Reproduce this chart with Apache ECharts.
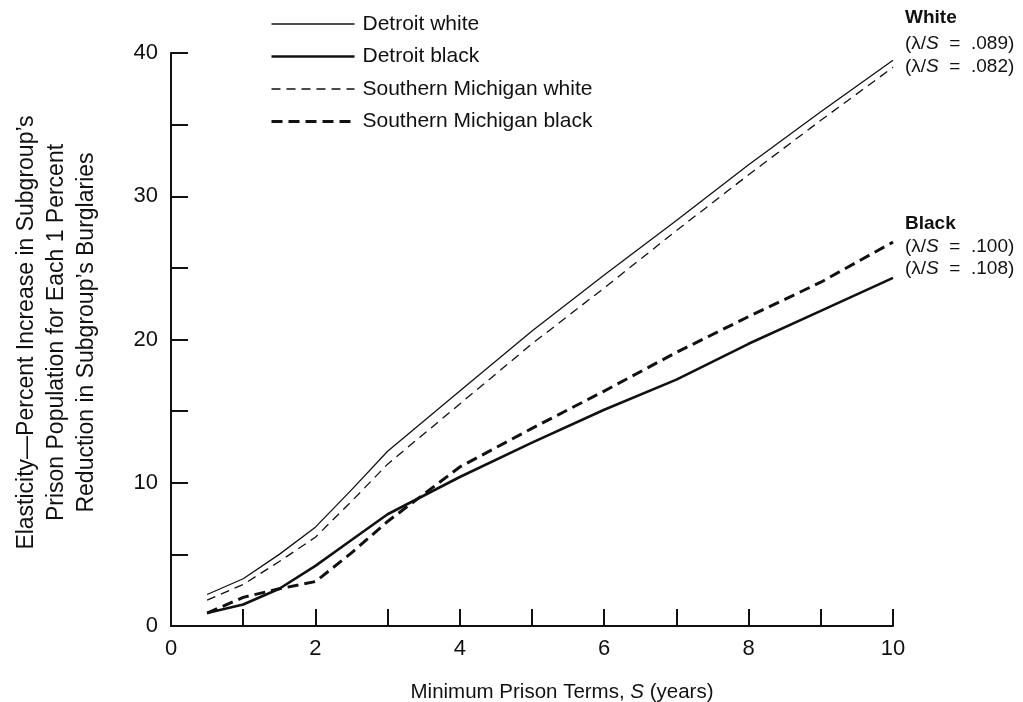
<!DOCTYPE html>
<html>
<head>
<meta charset="utf-8">
<script src="https://cdn.jsdelivr.net/npm/echarts@6/dist/echarts.min.js"></script>
<style>
html,body{margin:0;padding:0;background:#fff;}
#main{width:1023px;height:702px;}
</style>
</head>
<body>
<div id="main"></div>
<script>
// Minimum prison term S (years)
const termYears = [0.5, 1, 1.5, 2, 2.5, 3, 4, 5, 6, 7, 8, 9, 10];
// Elasticity values per subgroup
const detroitWhite = [2.2, 3.3, 5.0, 6.9, 9.5, 12.2, 16.4, 20.6, 24.5, 28.3, 32.2, 35.9, 39.5];
const detroitBlack = [0.9, 1.5, 2.6, 4.2, 6.0, 7.8, 10.4, 12.8, 15.1, 17.2, 19.7, 22.0, 24.3];
const michWhite    = [1.8, 2.9, 4.5, 6.2, 8.7, 11.3, 15.5, 19.7, 23.6, 27.6, 31.5, 35.3, 39.0];
const michBlack    = [0.9, 2.0, 2.6, 3.1, 5.1, 7.3, 11.1, 13.8, 16.4, 19.1, 21.6, 24.0, 26.8];
const seriesNames = ['Detroit white', 'Detroit black', 'Southern Michigan white', 'Southern Michigan black'];
const yTickLabels = [0, 10, 20, 30, 40];
const xTickLabels = [0, 2, 4, 6, 8, 10];
const whiteNotes = ['White', '(λ/S = .089)', '(λ/S = .082)'];
const blackNotes = ['Black', '(λ/S = .100)', '(λ/S = .108)'];

const FONT = '"Liberation Sans", Arial, Helvetica, sans-serif';
const INK = '#111';
const NOTE_SIZE = 19;

function pairs(ys) { return termYears.map((x, i) => [x, ys[i]]); }

function note(text, left, top, bold) {
  const m = text.match(/^\(λ\/S = (.*)\)$/);
  if (m) {
    return { type: 'text', left: left, top: top, style: {
      text: '(λ/{i|S}  =  ' + m[1] + ')', font: NOTE_SIZE + 'px ' + FONT, fill: INK,
      rich: { i: { fontStyle: 'italic', fontSize: NOTE_SIZE, fontFamily: FONT, fill: INK } } } };
  }
  return { type: 'text', left: left, top: top, style: {
    text: text, font: (bold ? 'bold ' : '') + NOTE_SIZE + 'px ' + FONT, fill: INK } };
}

const chart = echarts.init(document.getElementById('main'), null, { renderer: 'canvas' });
const lineDefs = [
  { name: seriesNames[0], data: detroitWhite, width: 1.3, type: 'solid' },
  { name: seriesNames[1], data: detroitBlack, width: 2.6, type: 'solid' },
  { name: seriesNames[2], data: michWhite, width: 1.3, type: [9, 6] },
  { name: seriesNames[3], data: michBlack, width: 3, type: [11, 6] }
];

chart.setOption({
  animation: false,
  backgroundColor: '#fff',
  textStyle: { fontFamily: FONT, color: INK },
  grid: { left: 171, right: 130, top: 53, bottom: 76, containLabel: false, outerBoundsMode: 'none' },
  legend: {
    orient: 'vertical', left: 265, top: 8,
    itemWidth: 83, itemHeight: 14, itemGap: 10.5,
    data: lineDefs.map(d => ({
      name: d.name,
      lineStyle: { width: d.width, type: d.type, color: INK }
    })),
    itemStyle: { opacity: 0 },
    lineStyle: { width: 'inherit' },
    textStyle: { fontSize: 21, fontFamily: FONT, color: INK, padding: [0, 0, 0, 3], lineHeight: 22 }
  },
  xAxis: {
    type: 'value', min: 0, max: 10, interval: 1,
    name: 'Minimum Prison Terms, {i|S} (years)',
    nameLocation: 'middle', nameGap: 56,
    nameTextStyle: { fontSize: 20.5, color: INK, fontFamily: FONT, padding: [0, 0, 0, 60],
      rich: { i: { fontStyle: 'italic', fontSize: 20.5, color: INK, fontFamily: FONT } } },
    axisLine: { show: true, lineStyle: { color: INK, width: 2 } },
    axisTick: { show: true, inside: true, length: 17, lineStyle: { color: INK, width: 2 } },
    axisLabel: { margin: 12, fontSize: 22, color: INK, fontFamily: FONT,
      formatter: v => xTickLabels.includes(v) ? String(v) : '' },
    splitLine: { show: false }
  },
  yAxis: {
    type: 'value', min: 0, max: 40, interval: 5,
    name: 'Elasticity—Percent Increase in Subgroup\u2019s\nPrison Population for Each 1 Percent\nReduction in Subgroup\u2019s Burglaries',
    nameLocation: 'middle', nameRotate: 90, nameGap: 69,
    nameTextStyle: { fontSize: 23, lineHeight: 30, color: INK, fontFamily: FONT, align: 'center',
      padding: [0, 0, 0, 14] },
    axisLine: { show: true, lineStyle: { color: INK, width: 2 } },
    axisTick: { show: true, inside: true, length: 17, lineStyle: { color: INK, width: 2 } },
    axisLabel: { margin: 13, fontSize: 22, color: INK, fontFamily: FONT,
      formatter: v => yTickLabels.includes(v) ? String(v) : '' },
    splitLine: { show: false }
  },
  series: lineDefs.map(d => ({
    name: d.name, type: 'line', data: pairs(d.data),
    symbol: 'none', smooth: false,
    lineStyle: { color: INK, width: d.width, type: d.type, cap: 'butt', join: 'round' },
    itemStyle: { color: INK }
  })),
  graphic: [
    note(whiteNotes[0], 905, 8, true),
    note(whiteNotes[1], 905, 34, false),
    note(whiteNotes[2], 905, 57, false),
    note(blackNotes[0], 905, 214, true),
    note(blackNotes[1], 905, 237, false),
    note(blackNotes[2], 905, 259, false)
  ]
});
</script>
</body>
</html>
